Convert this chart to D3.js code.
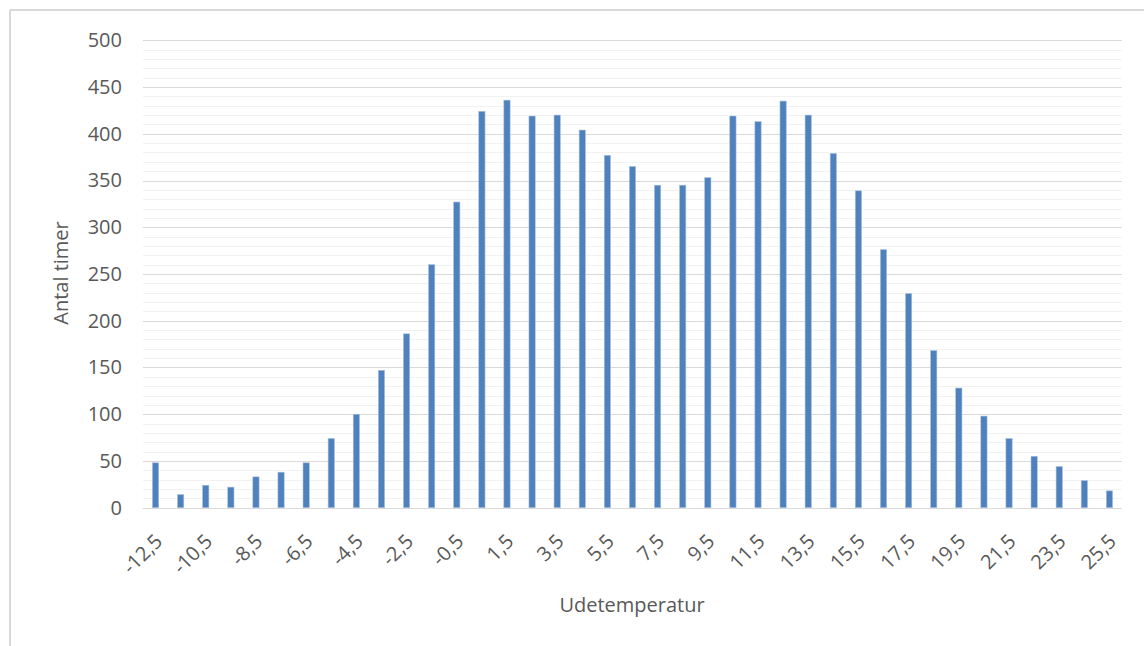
<!DOCTYPE html>
<html>
<head>
<meta charset="utf-8">
<title>Udetemperatur</title>
<script src="https://cdn.jsdelivr.net/npm/d3@7"></script>
<style>
  body { margin: 0; background: #fff; }
  text { font-family: "Open Sans", "Liberation Sans", sans-serif; fill: #595959; }
</style>
</head>
<body>
<script>
// temperature bins (midpoints) and hours per bin
var temps = [-12.5, -11.5, -10.5, -9.5, -8.5, -7.5, -6.5, -5.5, -4.5, -3.5,
             -2.5, -1.5, -0.5, 0.5, 1.5, 2.5, 3.5, 4.5, 5.5, 6.5,
             7.5, 8.5, 9.5, 10.5, 11.5, 12.5, 13.5, 14.5, 15.5, 16.5,
             17.5, 18.5, 19.5, 20.5, 21.5, 22.5, 23.5, 24.5, 25.5];
var hours = [48, 14, 24, 22, 33, 38, 48, 74, 100, 147,
             186, 260, 327, 424, 436, 419, 420, 404, 377, 365,
             345, 345, 353, 419, 413, 435, 420, 379, 339, 276,
             229, 168, 128, 98, 74, 55, 44, 29, 18];
var yTicks = [0, 50, 100, 150, 200, 250, 300, 350, 400, 450, 500];
var yMinor = d3.range(0, 501, 10);

var W = 1144, H = 646;
var plotL = 143, plotR = 1122, plotT = 40.3, plotB = 507.7;

var svg = d3.select("body").append("svg")
    .attr("width", W)
    .attr("height", H);

// chart frame
svg.append("line").attr("x1", 10).attr("x2", W).attr("y1", 10).attr("y2", 10)
    .attr("stroke", "#d9d9d9").attr("stroke-width", 2);
svg.append("line").attr("x1", 10).attr("x2", 10).attr("y1", 10).attr("y2", H)
    .attr("stroke", "#d9d9d9").attr("stroke-width", 2);

var x = d3.scaleBand()
    .domain(temps)
    .range([plotL, plotR])
    .paddingInner(0.75)
    .paddingOuter(0.375);

var y = d3.scaleLinear()
    .domain([0, 500])
    .range([plotB, plotT]);

// minor grid
svg.append("g").selectAll("line")
    .data(yMinor.filter(function(d) { return d % 50 != 0; }))
    .enter().append("line")
    .attr("x1", plotL).attr("x2", plotR)
    .attr("y1", function(d) { return Math.round(y(d)) + 0.5; })
    .attr("y2", function(d) { return Math.round(y(d)) + 0.5; })
    .attr("stroke", "#f2f2f2").attr("stroke-width", 1);

// major grid
svg.append("g").selectAll("line")
    .data(yTicks)
    .enter().append("line")
    .attr("x1", plotL).attr("x2", plotR)
    .attr("y1", function(d) { return Math.round(y(d)) + 0.5; })
    .attr("y2", function(d) { return Math.round(y(d)) + 0.5; })
    .attr("stroke", "#d9d9d9").attr("stroke-width", 1);

// y axis labels
var yAxis = d3.axisLeft(y).tickValues(yTicks).tickSize(0).tickPadding(0);
var gy = svg.append("g").attr("transform", "translate(122,0)").call(yAxis);
gy.select(".domain").remove();
gy.selectAll("text").style("font-size", "20px").attr("fill", "#595959");

// bars
svg.append("g").selectAll("rect")
    .data(hours)
    .enter().append("rect")
    .attr("x", function(d, i) { return x(temps[i]); })
    .attr("width", x.bandwidth())
    .attr("y", function(d) { return y(d); })
    .attr("height", function(d) { return plotB - y(d); })
    .attr("fill", "#4f81bd")
    .attr("stroke", "#a7c0de")
    .attr("stroke-width", 0.6);

// x axis labels, every other bin
var xAxis = d3.axisBottom(x)
    .tickValues(temps.filter(function(d, i) { return i % 2 == 0; }))
    .tickSize(0)
    .tickFormat(function(d) { return String(d).replace(".", ","); });
var gx = svg.append("g").attr("transform", "translate(0," + plotB + ")").call(xAxis);
gx.select(".domain").remove();
gx.selectAll("text")
    .style("font-size", "20px")
    .attr("fill", "#595959")
    .attr("text-anchor", "end")
    .attr("dy", "0.35em")
    .attr("y", 0)
    .attr("transform", "translate(3,30) rotate(-45)");

// axis titles
svg.append("text")
    .attr("transform", "translate(68,273) rotate(-90)")
    .attr("text-anchor", "middle")
    .style("font-size", "20px")
    .text("Antal timer");

svg.append("text")
    .attr("x", 632)
    .attr("y", 612)
    .attr("text-anchor", "middle")
    .style("font-size", "20px")
    .text("Udetemperatur");
</script>
</body>
</html>
